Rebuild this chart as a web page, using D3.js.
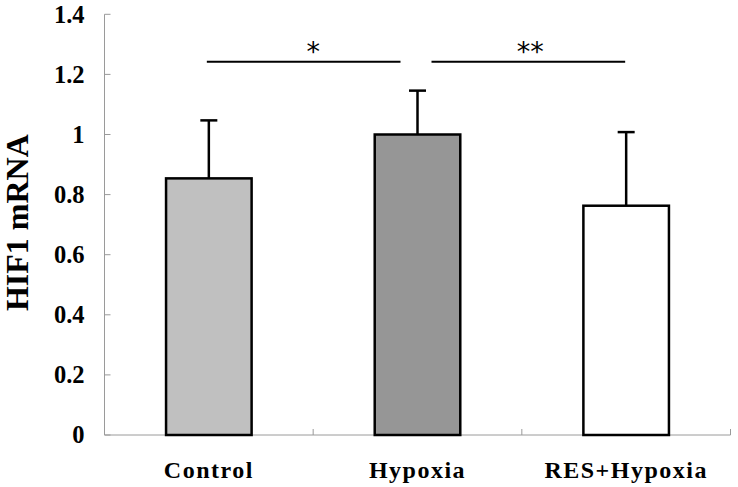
<!DOCTYPE html>
<html>
<head>
<meta charset="utf-8">
<script src="https://cdn.jsdelivr.net/npm/d3@7"></script>
<style>
  html, body { margin: 0; padding: 0; background: #fff; }
  svg { display: block; }
</style>
</head>
<body>
<svg id="chart" width="738" height="487"></svg>
<script>
// ---- data ----
const categories = ["Control", "Hypoxia", "RES+Hypoxia"];
const means = [0.854, 1.0, 0.763];
const errors = [0.193, 0.146, 0.245];
const barColors = ["#c0c0c0", "#969696", "#ffffff"];
const yTicks = [0, 0.2, 0.4, 0.6, 0.8, 1, 1.2, 1.4];
const yTickLabels = ["0", "0.2", "0.4", "0.6", "0.8", "1", "1.2", "1.4"];
const comparisons = [
  { from: "Control", to: "Hypoxia", level: 1.242, label: "*" },
  { from: "Hypoxia", to: "RES+Hypoxia", level: 1.242, label: "**" }
];
const yTitle = "HIF1 mRNA";

// ---- layout ----
const svg = d3.select("#chart");
const serif = "'Liberation Serif', 'Times New Roman', Times, serif";
const axisLeft = 104.5, axisRight = 730.5, y0 = 435, yTop = 14.3;

const x = d3.scaleBand().domain(categories).range([axisLeft, axisRight]).padding(0);
const y = d3.scaleLinear().domain([0, 1.4]).range([y0, yTop]);
const barW = x.bandwidth() * 0.41;
const cx = c => x(c) + x.bandwidth() / 2;

// y axis
const gy = svg.append("g").attr("transform", `translate(${axisLeft},0)`);
gy.append("line").attr("x1", 0).attr("x2", 0).attr("y1", y(1.4)).attr("y2", y(0))
  .attr("stroke", "#9a9a9a").attr("stroke-width", 1);
gy.selectAll("line.tick").data(yTicks).join("line").attr("class", "tick")
  .attr("x1", 0).attr("x2", 6).attr("y1", d => y(d)).attr("y2", d => y(d))
  .attr("stroke", "#9a9a9a").attr("stroke-width", 1);
gy.selectAll("text").data(yTicks).join("text")
  .attr("x", -20).attr("y", d => y(d)).attr("dy", "0.34em")
  .attr("text-anchor", "end")
  .attr("font-family", serif).attr("font-weight", "bold").attr("font-size", 24.5)
  .attr("fill", "#000")
  .text((d, i) => yTickLabels[i]);

// x axis
const gx = svg.append("g").attr("transform", `translate(0,${y0})`);
gx.append("line").attr("x1", axisLeft).attr("x2", axisRight).attr("y1", 0).attr("y2", 0)
  .attr("stroke", "#9a9a9a").attr("stroke-width", 1);
const xTickPos = categories.map(c => x(c) + x.bandwidth());
gx.selectAll("line.tick").data(xTickPos).join("line").attr("class", "tick")
  .attr("x1", d => d).attr("x2", d => d).attr("y1", 0).attr("y2", -6)
  .attr("stroke", "#9a9a9a").attr("stroke-width", 1);
gx.selectAll("text").data(categories).join("text")
  .attr("x", d => cx(d)).attr("y", 43)
  .attr("text-anchor", "middle")
  .attr("font-family", serif).attr("font-weight", "bold").attr("font-size", 24)
  .attr("letter-spacing", "1.5px")
  .attr("fill", "#000")
  .text(d => d);

// y title
svg.append("text")
  .attr("transform", `translate(28,${(y(0) + y(1.4)) / 2 - 2}) rotate(-90)`)
  .attr("text-anchor", "middle")
  .attr("font-family", serif).attr("font-weight", "bold").attr("font-size", 32)
  .attr("fill", "#000")
  .text(yTitle);

// error bars (behind bars)
const capW = 17;
const eb = svg.append("g").attr("stroke", "#000").attr("stroke-width", 2.5);
categories.forEach((c, i) => {
  eb.append("line").attr("x1", cx(c)).attr("x2", cx(c))
    .attr("y1", y(means[i])).attr("y2", y(means[i] + errors[i]));
  eb.append("line").attr("x1", cx(c) - capW / 2).attr("x2", cx(c) + capW / 2)
    .attr("y1", y(means[i] + errors[i])).attr("y2", y(means[i] + errors[i]));
});

// bars
svg.append("g").selectAll("rect").data(categories).join("rect")
  .attr("x", d => cx(d) - barW / 2)
  .attr("y", (d, i) => y(means[i]))
  .attr("width", barW)
  .attr("height", (d, i) => y(0) - y(means[i]))
  .attr("fill", (d, i) => barColors[i])
  .attr("stroke", "#000").attr("stroke-width", 2.5);

// significance lines
const sig = svg.append("g");
comparisons.forEach((cmp, k) => {
  const a = cx(cmp.from), b = cx(cmp.to);
  const x1 = k === 0 ? a - 2 : a + 14;
  const x2 = k === 0 ? b - 17 : b - 1;
  sig.append("line").attr("x1", x1).attr("x2", x2)
    .attr("y1", y(cmp.level)).attr("y2", y(cmp.level))
    .attr("stroke", "#000").attr("stroke-width", 2);
  const tx = k === 0 ? (a + b) / 2 : (x1 + x2) / 2 + 2;
  sig.append("text")
    .attr("x", tx).attr("y", y(cmp.level) - 1)
    .attr("text-anchor", "middle")
    .attr("font-family", "'DejaVu Sans', sans-serif").attr("font-size", 27)
    .attr("fill", "#000")
    .text(cmp.label);
});
</script>
</body>
</html>
